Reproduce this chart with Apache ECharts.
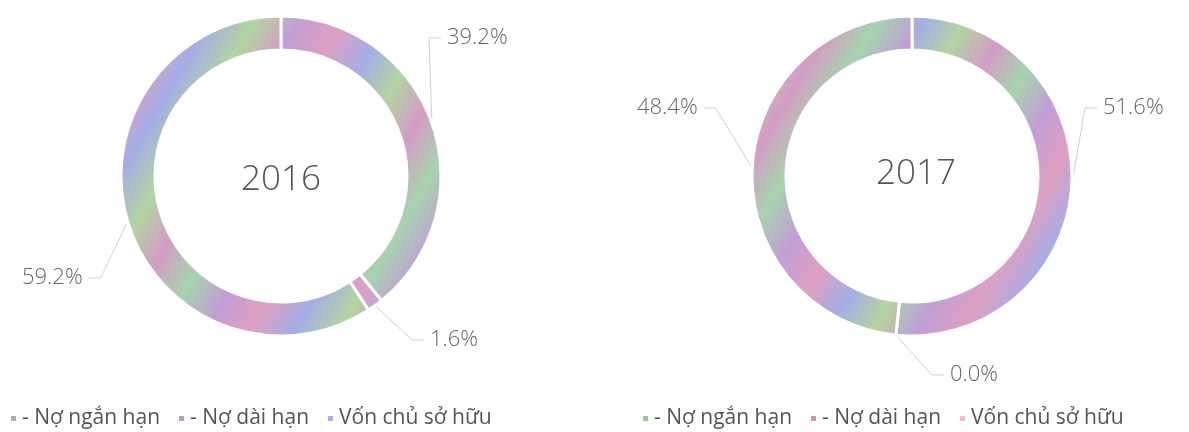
<!DOCTYPE html>
<html>
<head>
<meta charset="utf-8">
<script src="https://cdn.jsdelivr.net/npm/echarts@6/dist/echarts.min.js"></script>
<style>
  html, body { margin: 0; padding: 0; background: #fff; }
  #main { width: 1189px; height: 432px; }
</style>
</head>
<body>
<div id="main"></div>
<script>
// data
var categories = ['- Nợ ngắn hạn', '- Nợ dài hạn', 'Vốn chủ sở hữu'];
var years = ['2016', '2017'];
var values2016 = [39.2, 1.6, 59.2];
var values2017 = [51.6, 0.0, 48.4];

// legend swatch colours (the rings themselves are a pastel "rainbow" print)
var legendColors2016 = ['#9fb3b3', '#c49bc0', '#a6aee6'];
var legendColors2017 = ['#9fc79a', '#cf95b5', '#f3b8d5'];

var chart = echarts.init(document.getElementById('main'));

// pastel diagonal bands to imitate the scanned rainbow texture
function rainbow(shift) {
  var tones = ['#a6d4ae', '#c29ed6', '#dea0c2', '#a5ade6', '#b3d5a2', '#d49cc6'];
  var stops = [];
  var n = 36;
  for (var i = 0; i <= n; i++) {
    stops.push({ offset: i / n, color: tones[(i + shift) % tones.length] });
  }
  return {
    type: 'linear', x: 0, y: 0, x2: 1189, y2: 700, global: true,
    colorStops: stops
  };
}

function buildData(vals) {
  return categories.map(function (c, i) {
    return { name: c, value: vals[i], itemStyle: { color: rainbow(i * 2) } };
  });
}

// where the labels sit (left edge, vertical middle), per series / data index
var labelPos = [
  [[447, 38], [430, 340], [22, 278]],
  [[1103, 108], [950, 375], [637, 108]]
];

function layoutLabel(params) {
  var p = labelPos[params.seriesIndex][params.dataIndex];
  var w = params.labelRect.width;
  var p0 = params.labelLinePoints ? params.labelLinePoints[0] : null;
  var res = { x: p[0], y: p[1], align: 'left', verticalAlign: 'middle' };
  if (p0) {
    var onRight = p[0] > p0[0];
    var endX = onRight ? p[0] - 6 : p[0] + w + 6;
    var elbowX = onRight ? endX - 12 : endX + 12;
    res.labelLinePoints = [p0, [elbowX, p[1]], [endX, p[1]]];
  }
  return res;
}

function pieSeries(vals, cx) {
  return {
    type: 'pie',
    radius: [126, 160],
    center: [cx, 176],
    startAngle: 90,
    clockwise: true,
    avoidLabelOverlap: false,
    itemStyle: { borderColor: '#fff', borderWidth: 3 },
    label: {
      show: true,
      formatter: function (p) { return p.value.toFixed(1) + '%'; },
      color: '#666',
      fontFamily: 'Open Sans',
      fontWeight: 300,
      fontSize: 22
    },
    labelLine: {
      show: true,
      lineStyle: { color: '#cfcfdc', width: 1 }
    },
    labelLayout: layoutLabel,
    emphasis: { disabled: true },
    data: buildData(vals)
  };
}

function legendFor(colors, left) {
  return {
    left: left,
    top: 403,
    itemWidth: 7,
    itemHeight: 7,
    itemGap: 17,
    icon: 'rect',
    selectedMode: false,
    textStyle: { color: '#555', fontSize: 21, fontFamily: 'Open Sans', fontWeight: 'normal' },
    data: categories.map(function (c, i) {
      return { name: c, itemStyle: { color: colors[i] } };
    })
  };
}

var option = {
  backgroundColor: '#fff',
  animation: false,
  title: [
    {
      text: years[0], left: 276, top: 158, textAlign: 'center',
      textStyle: { color: '#555', fontSize: 35, fontWeight: 300, fontFamily: 'Open Sans' }
    },
    {
      text: years[1], left: 911, top: 152, textAlign: 'center',
      textStyle: { color: '#555', fontSize: 35, fontWeight: 300, fontFamily: 'Open Sans' }
    }
  ],
  legend: [legendFor(legendColors2016, 4), legendFor(legendColors2017, 636)],
  series: [pieSeries(values2016, 281), pieSeries(values2017, 912)]
};

chart.setOption(option);
</script>
</body>
</html>
